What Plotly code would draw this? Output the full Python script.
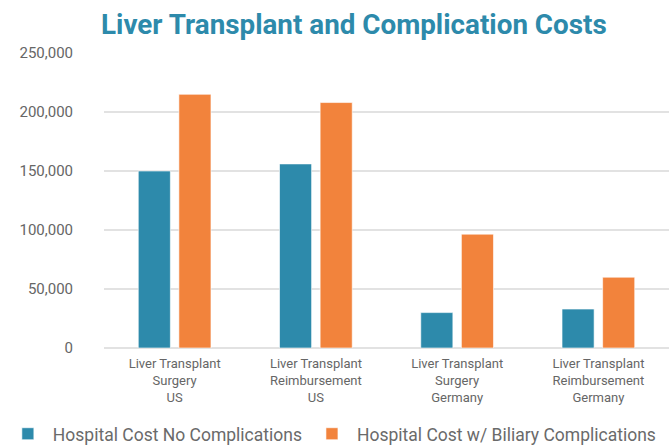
import plotly.graph_objects as go

categories = ["Liver Transplant<br>Surgery<br>US",
              "Liver Transplant<br>Reimbursement<br>US",
              "Liver Transplant<br>Surgery<br>Germany",
              "Liver Transplant<br>Reimbursement<br>Germany"]
no_complications = [150000, 156000, 30000, 33000]
biliary_complications = [215000, 208000, 96500, 60000]
y_ticks = [0, 50000, 100000, 150000, 200000, 250000]
y_tick_labels = ["0", "50,000", "100,000", "150,000", "200,000", "250,000"]

BLUE = "#2D8AAB"
ORANGE = "#F2833C"
FONT = "Roboto, sans-serif"

fig = go.Figure()
fig.add_trace(go.Bar(x=categories, y=no_complications, name="Hospital Cost No Complications",
                     marker=dict(color=BLUE, line=dict(color="rgba(255,255,255,0.6)", width=1))))
fig.add_trace(go.Bar(x=categories, y=biliary_complications, name="Hospital Cost w/ Biliary Complications",
                     marker=dict(color=ORANGE, line=dict(color="rgba(255,255,255,0.6)", width=1))))

fig.update_layout(
    width=669, height=446,
    margin=dict(l=104, r=0, t=53, b=98, autoexpand=False),
    paper_bgcolor="white", plot_bgcolor="white",
    barmode="group", bargap=0.425, bargroupgap=0.21,
    title=dict(text="<b>Liver Transplant and Complication Costs</b>",
               font=dict(family=FONT, size=27.8, color=BLUE),
               x=0.529, xanchor="center", y=0.968, yanchor="top"),
    font=dict(family=FONT, color="#666666"),
    showlegend=True,
    legend=dict(orientation="h", x=-0.179, xanchor="left", y=-0.291, yanchor="middle",
                font=dict(family=FONT, size=17.5, color="#6a6a6a"),
                itemwidth=40, traceorder="normal"),
    xaxis=dict(showgrid=False, showline=False, ticks="", automargin=False,
               tickfont=dict(size=13, color="#666666"), ticklabelstandoff=6),
    yaxis=dict(range=[0, 250000], tickvals=y_ticks, ticktext=y_tick_labels, automargin=False,
               showgrid=True, gridcolor="#E2E2E2", gridwidth=1.5,
               zeroline=True, zerolinecolor="#E2E2E2", zerolinewidth=1.5,
               tickfont=dict(size=15, color="#666666"), ticks="", ticklabelstandoff=30),
)
fig.write_html("out.html", config={"displayModeBar": False},
               post_script="document.body.style.margin='0';")
